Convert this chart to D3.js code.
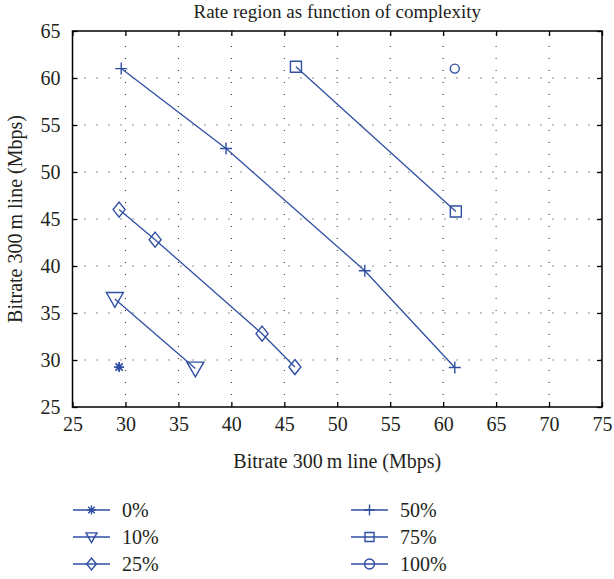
<!DOCTYPE html>
<html>
<head>
<meta charset="utf-8">
<script src="https://cdn.jsdelivr.net/npm/d3@7"></script>
<style>
  body { margin: 0; background: #fff; }
  text { font-family: "Liberation Serif", "DejaVu Serif", serif; fill: #231f20; }
</style>
</head>
<body>
<div id="chart"></div>
<script>
// Series data (x = bitrate, y = bitrate)
const s0 = [[29.4, 29.25]];
const s10 = [[29.0, 36.5], [36.6, 29.1]];
const s25 = [[29.4, 46.0], [32.8, 42.8], [42.9, 32.8], [46.0, 29.25]];
const s50 = [[29.6, 61.0], [39.5, 52.5], [52.6, 39.5], [61.1, 29.2]];
const s75 = [[46.1, 61.2], [61.2, 45.8]];
const s100 = [[61.1, 61.0]];

const seriesNames = ['0%', '10%', '25%', '50%', '75%', '100%'];
const seriesMarkers = ['star', 'triangle', 'diamond', 'plus', 'square', 'circle'];
const seriesData = [s0, s10, s25, s50, s75, s100];

const xTicks = [25, 30, 35, 40, 45, 50, 55, 60, 65, 70, 75];
const yTicks = [25, 30, 35, 40, 45, 50, 55, 60, 65];

const title = 'Rate region as function of complexity';
const xLabel = 'Bitrate 300\u2009m line (Mbps)';
const yLabel = 'Bitrate 300\u2009m line (Mbps)';

const W = 614, H = 579;
const margin = { top: 31, left: 72.5, right: 12, bottom: 172 };
const width = W - margin.left - margin.right;
const height = H - margin.top - margin.bottom;
const blue = '#2f4fa3';

const svg = d3.select('#chart').append('svg')
    .attr('width', W)
    .attr('height', H);

const xScale = d3.scaleLinear().domain([25, 75]).range([0, width]);
const yScale = d3.scaleLinear().domain([25, 65]).range([height, 0]);

const g = svg.append('g')
    .attr('transform', 'translate(' + margin.left + ',' + margin.top + ')');

// Dotted grid
g.append('g').selectAll('line')
    .data(xTicks.slice(1, -1))
    .enter().append('line')
    .attr('x1', d => xScale(d)).attr('x2', d => xScale(d))
    .attr('y1', height).attr('y2', 0)
    .attr('stroke', '#222').attr('stroke-width', 1)
    .attr('stroke-dasharray', '1,11');
g.append('g').selectAll('line')
    .data(yTicks.slice(1, -1))
    .enter().append('line')
    .attr('x1', 0).attr('x2', width)
    .attr('y1', d => yScale(d)).attr('y2', d => yScale(d))
    .attr('stroke', '#222').attr('stroke-width', 1)
    .attr('stroke-dasharray', '1,11');

// Axes
const fmt = d3.format('d');
const styleAxis = sel => {
    sel.select('.domain').remove();
    sel.selectAll('line').attr('stroke', '#000').attr('stroke-width', 1.3);
    sel.selectAll('text').style('font-size', '20px').attr('fill', '#231f20');
};
g.append('g')
    .attr('transform', 'translate(0,' + height + ')')
    .call(d3.axisBottom(xScale).tickValues(xTicks).tickFormat(fmt).tickSizeInner(-5).tickSizeOuter(0).tickPadding(10))
    .call(styleAxis);
g.append('g')
    .call(d3.axisTop(xScale).tickValues(xTicks).tickFormat('').tickSizeInner(-5).tickSizeOuter(0))
    .call(styleAxis);
g.append('g')
    .call(d3.axisLeft(yScale).tickValues(yTicks).tickFormat(fmt).tickSizeInner(-5).tickSizeOuter(0).tickPadding(12))
    .call(styleAxis);
g.append('g')
    .attr('transform', 'translate(' + width + ',0)')
    .call(d3.axisRight(yScale).tickValues(yTicks).tickFormat('').tickSizeInner(-5).tickSizeOuter(0))
    .call(styleAxis);

// Frame
g.append('rect')
    .attr('width', width).attr('height', height)
    .attr('fill', 'none').attr('stroke', '#000').attr('stroke-width', 1.5);

// Marker path builder
const markerPath = (type, s) => {
    const h = s / 2;
    switch (type) {
        case 'star': {
            const d = h * 0.72;
            return 'M' + (-h) + ',0L' + h + ',0M0,' + (-h) + 'L0,' + h +
                'M' + (-d) + ',' + (-d) + 'L' + d + ',' + d + 'M' + (-d) + ',' + d + 'L' + d + ',' + (-d);
        }
        case 'plus':
            return 'M' + (-h) + ',0L' + h + ',0M0,' + (-h) + 'L0,' + h;
        case 'triangle':
            return 'M' + (-h) + ',' + (-h * 0.75) + 'L' + h + ',' + (-h * 0.75) + 'L0,' + (h * 1.0) + 'Z';
        case 'diamond':
            return 'M0,' + (-h) + 'L' + (h * 0.8) + ',0L0,' + h + 'L' + (-h * 0.8) + ',0Z';
        case 'square':
            return 'M' + (-h) + ',' + (-h) + 'H' + h + 'V' + h + 'H' + (-h) + 'Z';
        case 'circle':
            return 'M' + h + ',0A' + h + ',' + h + ' 0 1,1 ' + (-h) + ',0A' + h + ',' + h + ' 0 1,1 ' + h + ',0Z';
    }
};
const plotSize = { star: 10, plus: 12, triangle: 17, diamond: 15, square: 11, circle: 9 };
const legendSize = { star: 9, plus: 11, triangle: 11, diamond: 12, square: 9, circle: 10 };

const line = d3.line().x(d => xScale(d[0])).y(d => yScale(d[1]));

seriesData.forEach((data, i) => {
    const m = seriesMarkers[i];
    if (data.length > 1) {
        g.append('path')
            .datum(data)
            .attr('d', line)
            .attr('fill', 'none')
            .attr('stroke', blue)
            .attr('stroke-width', 1.3);
    }
    g.selectAll('.mk' + i)
        .data(data)
        .enter().append('path')
        .attr('class', 'mk' + i)
        .attr('transform', d => 'translate(' + xScale(d[0]) + ',' + yScale(d[1]) + ')')
        .attr('d', markerPath(m, plotSize[m]))
        .attr('fill', 'none')
        .attr('stroke', blue)
        .attr('stroke-width', m === 'star' ? 1.8 : 1.4);
});

// Title and axis labels
svg.append('text')
    .attr('x', margin.left + width / 2).attr('y', 18)
    .attr('text-anchor', 'middle')
    .style('font-size', '19px')
    .text(title);
svg.append('text')
    .attr('x', margin.left + width / 2).attr('y', 468)
    .attr('text-anchor', 'middle')
    .style('font-size', '20px')
    .text(xLabel);
svg.append('text')
    .attr('transform', 'translate(22,' + (margin.top + height / 2) + ') rotate(-90)')
    .attr('text-anchor', 'middle')
    .style('font-size', '20px')
    .text(yLabel);

// Legend
const legendCols = [73, 351];
const legendRows = [510, 537, 564];
seriesNames.forEach((name, i) => {
    const lx = legendCols[Math.floor(i / 3)];
    const ly = legendRows[i % 3];
    const m = seriesMarkers[i];
    const lg = svg.append('g').attr('transform', 'translate(' + lx + ',' + ly + ')');
    lg.append('line')
        .attr('x1', 0).attr('x2', 37).attr('y1', 0).attr('y2', 0)
        .attr('stroke', blue).attr('stroke-width', 1.3);
    lg.append('path')
        .attr('transform', 'translate(18.5,0)')
        .attr('d', markerPath(m, legendSize[m]))
        .attr('fill', 'none')
        .attr('stroke', blue)
        .attr('stroke-width', 1.4);
    lg.append('text')
        .attr('x', 49).attr('y', 7)
        .style('font-size', '20px')
        .text(name);
});
</script>
</body>
</html>
